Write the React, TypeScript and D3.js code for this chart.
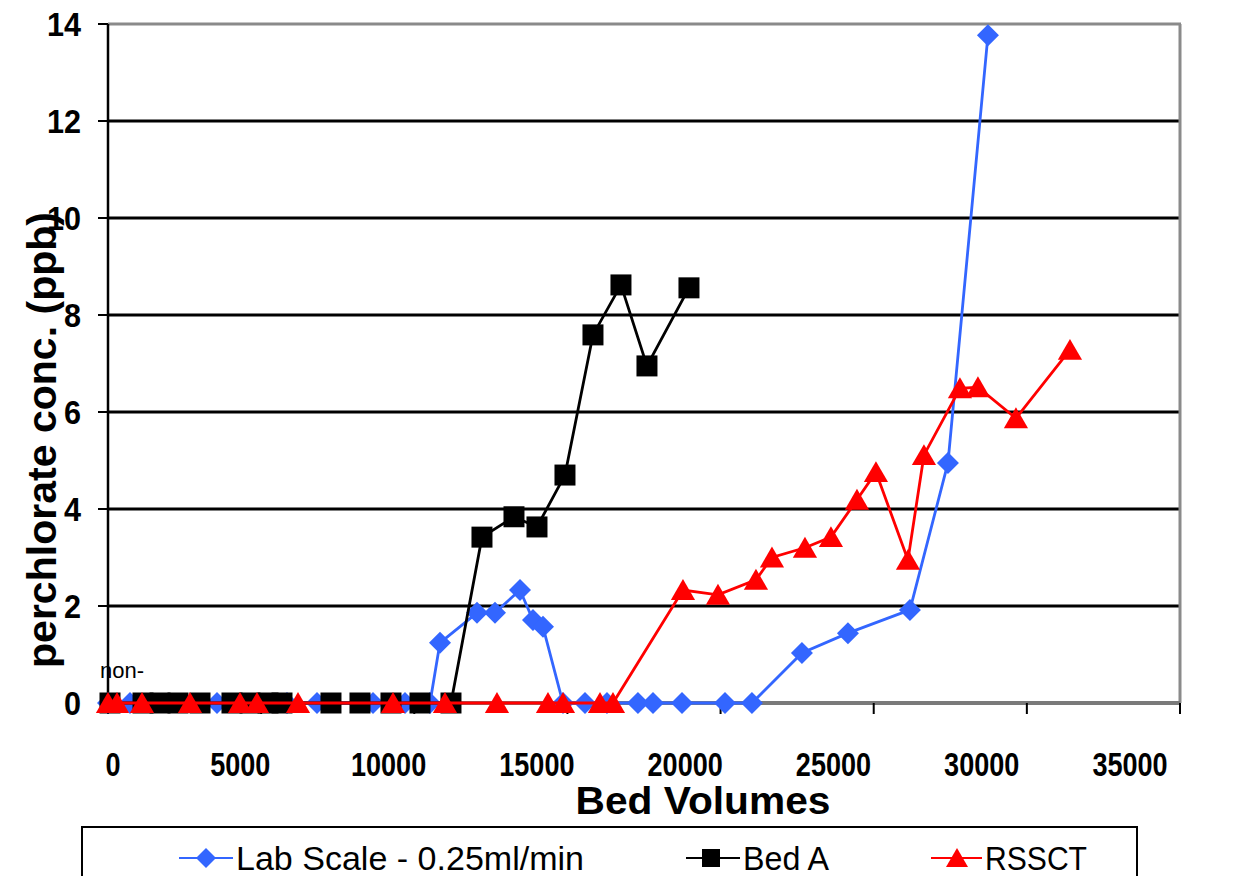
import React from "react";
import * as d3 from "d3";

const labBV = [0, 718, 3559, 5844, 6823, 8652, 9696, 10512, 10839, 12047, 12635, 13451, 13875, 14202, 14855, 15573, 16291, 17303, 17793, 18740, 20144, 21025, 22657, 24159, 26183, 27424, 28730];
const labConc = [0, 0, 0, 0, 0, 0, 0, 0, 1.24, 1.86, 1.86, 2.33, 1.71, 1.57, 0, 0, 0, 0, 0, 0, 0, 0, 1.03, 1.44, 1.92, 4.95, 13.77];

const bedBV = [65, 1143, 1698, 2285, 3004, 4048, 4636, 5224, 5681, 7280, 8227, 9239, 10186, 11198, 12210, 13255, 14006, 14920, 15834, 16748, 17597, 18968];
const bedConc = [0, 0, 0, 0, 0, 0, 0, 0, 0, 0, 0, 0, 0, 0, 3.42, 3.84, 3.63, 4.7, 7.59, 8.62, 6.95, 8.56];

const rssBV = [0, 294, 1110, 2677, 4310, 4865, 6203, 9305, 11002, 12700, 14365, 14855, 16063, 16487, 18772, 19915, 21155, 21678, 22755, 23604, 24453, 25073, 26118, 26640, 27816, 28403, 29644, 31407];
const rssConc = [0, 0, 0, 0, 0, 0, 0, 0, 0, 0, 0, 0, 0, 0, 2.33, 2.23, 2.54, 3.0, 3.2, 3.42, 4.19, 4.76, 2.95, 5.11, 6.49, 6.51, 5.87, 7.28];

const xTicks = [0, 5000, 10000, 15000, 20000, 25000, 30000, 35000];
const yTicks = [0, 2, 4, 6, 8, 10, 12, 14];
const gridVals = [2, 4, 6, 8, 10, 12];

const seriesNames = ["Lab Scale - 0.25ml/min", "Bed A", "RSSCT"];

const BLUE = "#3366FF";
const RED = "#FF0000";
const BLACK = "#000000";

const x = d3.scaleLinear().domain([0, 35000]).range([108, 1180]);
const y = d3.scaleLinear().domain([0, 14]).range([703, 24]);
// tick labels in the source image sit slightly left of their ticks
const xLabel = d3.scaleLinear().domain([0, 35000]).range([92, 1130]);

const diamond = (cx: number, cy: number, r: number) =>
  `M${cx},${cy - r}L${cx + r},${cy}L${cx},${cy + r}L${cx - r},${cy}Z`;
const square = (cx: number, cy: number, r: number) =>
  `M${cx - r},${cy - r}H${cx + r}V${cy + r}H${cx - r}Z`;
const triangle = (cx: number, cy: number, r: number) =>
  `M${cx},${cy - r}L${cx + r * 1.1},${cy + r * 0.9}L${cx - r * 1.1},${cy + r * 0.9}Z`;

const FONT = "'Liberation Sans', Arial, sans-serif";
const NARROW = "'Liberation Sans Narrow', 'Arial Narrow', 'Liberation Sans', Arial, sans-serif";

function Series({ xs, ys, color, marker, r }: { xs: number[]; ys: number[]; color: string; marker: (a: number, b: number, c: number) => string; r: number }) {
  const pts: [number, number][] = xs.map((v, i) => [x(v), y(ys[i])]);
  const line = d3.line()(pts) || "";
  return (
    <g>
      <path d={line} fill="none" stroke={color} strokeWidth={2.8} />
      {pts.map((p, i) => (
        <path key={i} d={marker(p[0], p[1], r)} fill={color} />
      ))}
    </g>
  );
}

export default function App() {
  return (
    <svg width={1242} height={876} style={{ position: "absolute", left: 0, top: 0, background: "#fff" }}>
      <rect x={0} y={0} width={1242} height={876} fill="#fff" />
      {gridVals.map((g) => (
        <line key={g} x1={x(0)} x2={x(35000)} y1={y(g)} y2={y(g)} stroke="#000" strokeWidth={3} />
      ))}
      <line x1={x(0)} x2={x(35000) + 1} y1={y(14)} y2={y(14)} stroke="#8a8a8a" strokeWidth={3} />
      <line x1={x(35000)} x2={x(35000)} y1={y(14)} y2={y(0)} stroke="#8a8a8a" strokeWidth={3} />
      <line x1={x(0)} x2={x(35000)} y1={y(0)} y2={y(0)} stroke="#7a7a7a" strokeWidth={4} />
      {xTicks.map((t) => (
        <line key={t} x1={x(t)} x2={x(t)} y1={y(0)} y2={y(0) + 11} stroke="#000" strokeWidth={2} />
      ))}
      <line x1={x(0)} x2={x(0)} y1={y(14)} y2={y(0)} stroke="#000" strokeWidth={2.5} />
      {yTicks.map((t) => (
        <line key={t} x1={x(0) - 10} x2={x(0)} y1={y(t)} y2={y(t)} stroke="#000" strokeWidth={2} />
      ))}
      {yTicks.map((t) => (
        <text key={t} transform={`translate(81,${y(t) + 12}) scale(0.9,1)`} textAnchor="end" fontFamily={FONT} fontWeight="bold" fontSize={34} fill="#000">
          {t}
        </text>
      ))}
      {xTicks.map((t) => (
        <text key={t} transform={`translate(${t === 0 ? x(t) + 5 : xLabel(t)},776) scale(0.82,1)`} textAnchor="middle" fontFamily={FONT} fontWeight="bold" fontSize={33} fill="#000">
          {t}
        </text>
      ))}
      <text x={703} y={814} textAnchor="middle" fontFamily={FONT} fontWeight="bold" fontSize={39} fill="#000" textLength={255} lengthAdjust="spacingAndGlyphs">
        Bed Volumes
      </text>
      <text
        transform="translate(56,440) rotate(-90)"
        textAnchor="middle"
        fontFamily={FONT}
        fontWeight="bold"
        fontSize={40}
        fill="#000"
        textLength={456}
        lengthAdjust="spacingAndGlyphs"
      >
        perchlorate conc. (ppb)
      </text>
      <text x={100} y={678} fontFamily={FONT} fontSize={22} fill="#000">
        non-
      </text>
      <Series xs={labBV} ys={labConc} color={BLUE} marker={diamond} r={11} />
      <Series xs={bedBV} ys={bedConc} color={BLACK} marker={square} r={10.5} />
      <Series xs={rssBV} ys={rssConc} color={RED} marker={triangle} r={11} />
      <rect x={82} y={827} width={1055} height={70} fill="#fff" stroke="#000" strokeWidth={2} />
      <line x1={179} x2={233} y1={858} y2={858} stroke={BLUE} strokeWidth={2} />
      <path d={diamond(206, 858, 10)} fill={BLUE} />
      <text x={236} y={870} fontFamily={NARROW} fontSize={33} fill="#000" textLength={348} lengthAdjust="spacingAndGlyphs">
        {seriesNames[0]}
      </text>
      <line x1={686} x2={740} y1={858} y2={858} stroke={BLACK} strokeWidth={2} />
      <path d={square(711, 858, 9)} fill={BLACK} />
      <text x={743} y={870} fontFamily={NARROW} fontSize={33} fill="#000" textLength={86} lengthAdjust="spacingAndGlyphs">
        {seriesNames[1]}
      </text>
      <line x1={931} x2={982} y1={858} y2={858} stroke={RED} strokeWidth={2} />
      <path d={triangle(957, 858, 10)} fill={RED} />
      <text x={985} y={870} fontFamily={NARROW} fontSize={33} fill="#000" textLength={102} lengthAdjust="spacingAndGlyphs">
        {seriesNames[2]}
      </text>
    </svg>
  );
}
